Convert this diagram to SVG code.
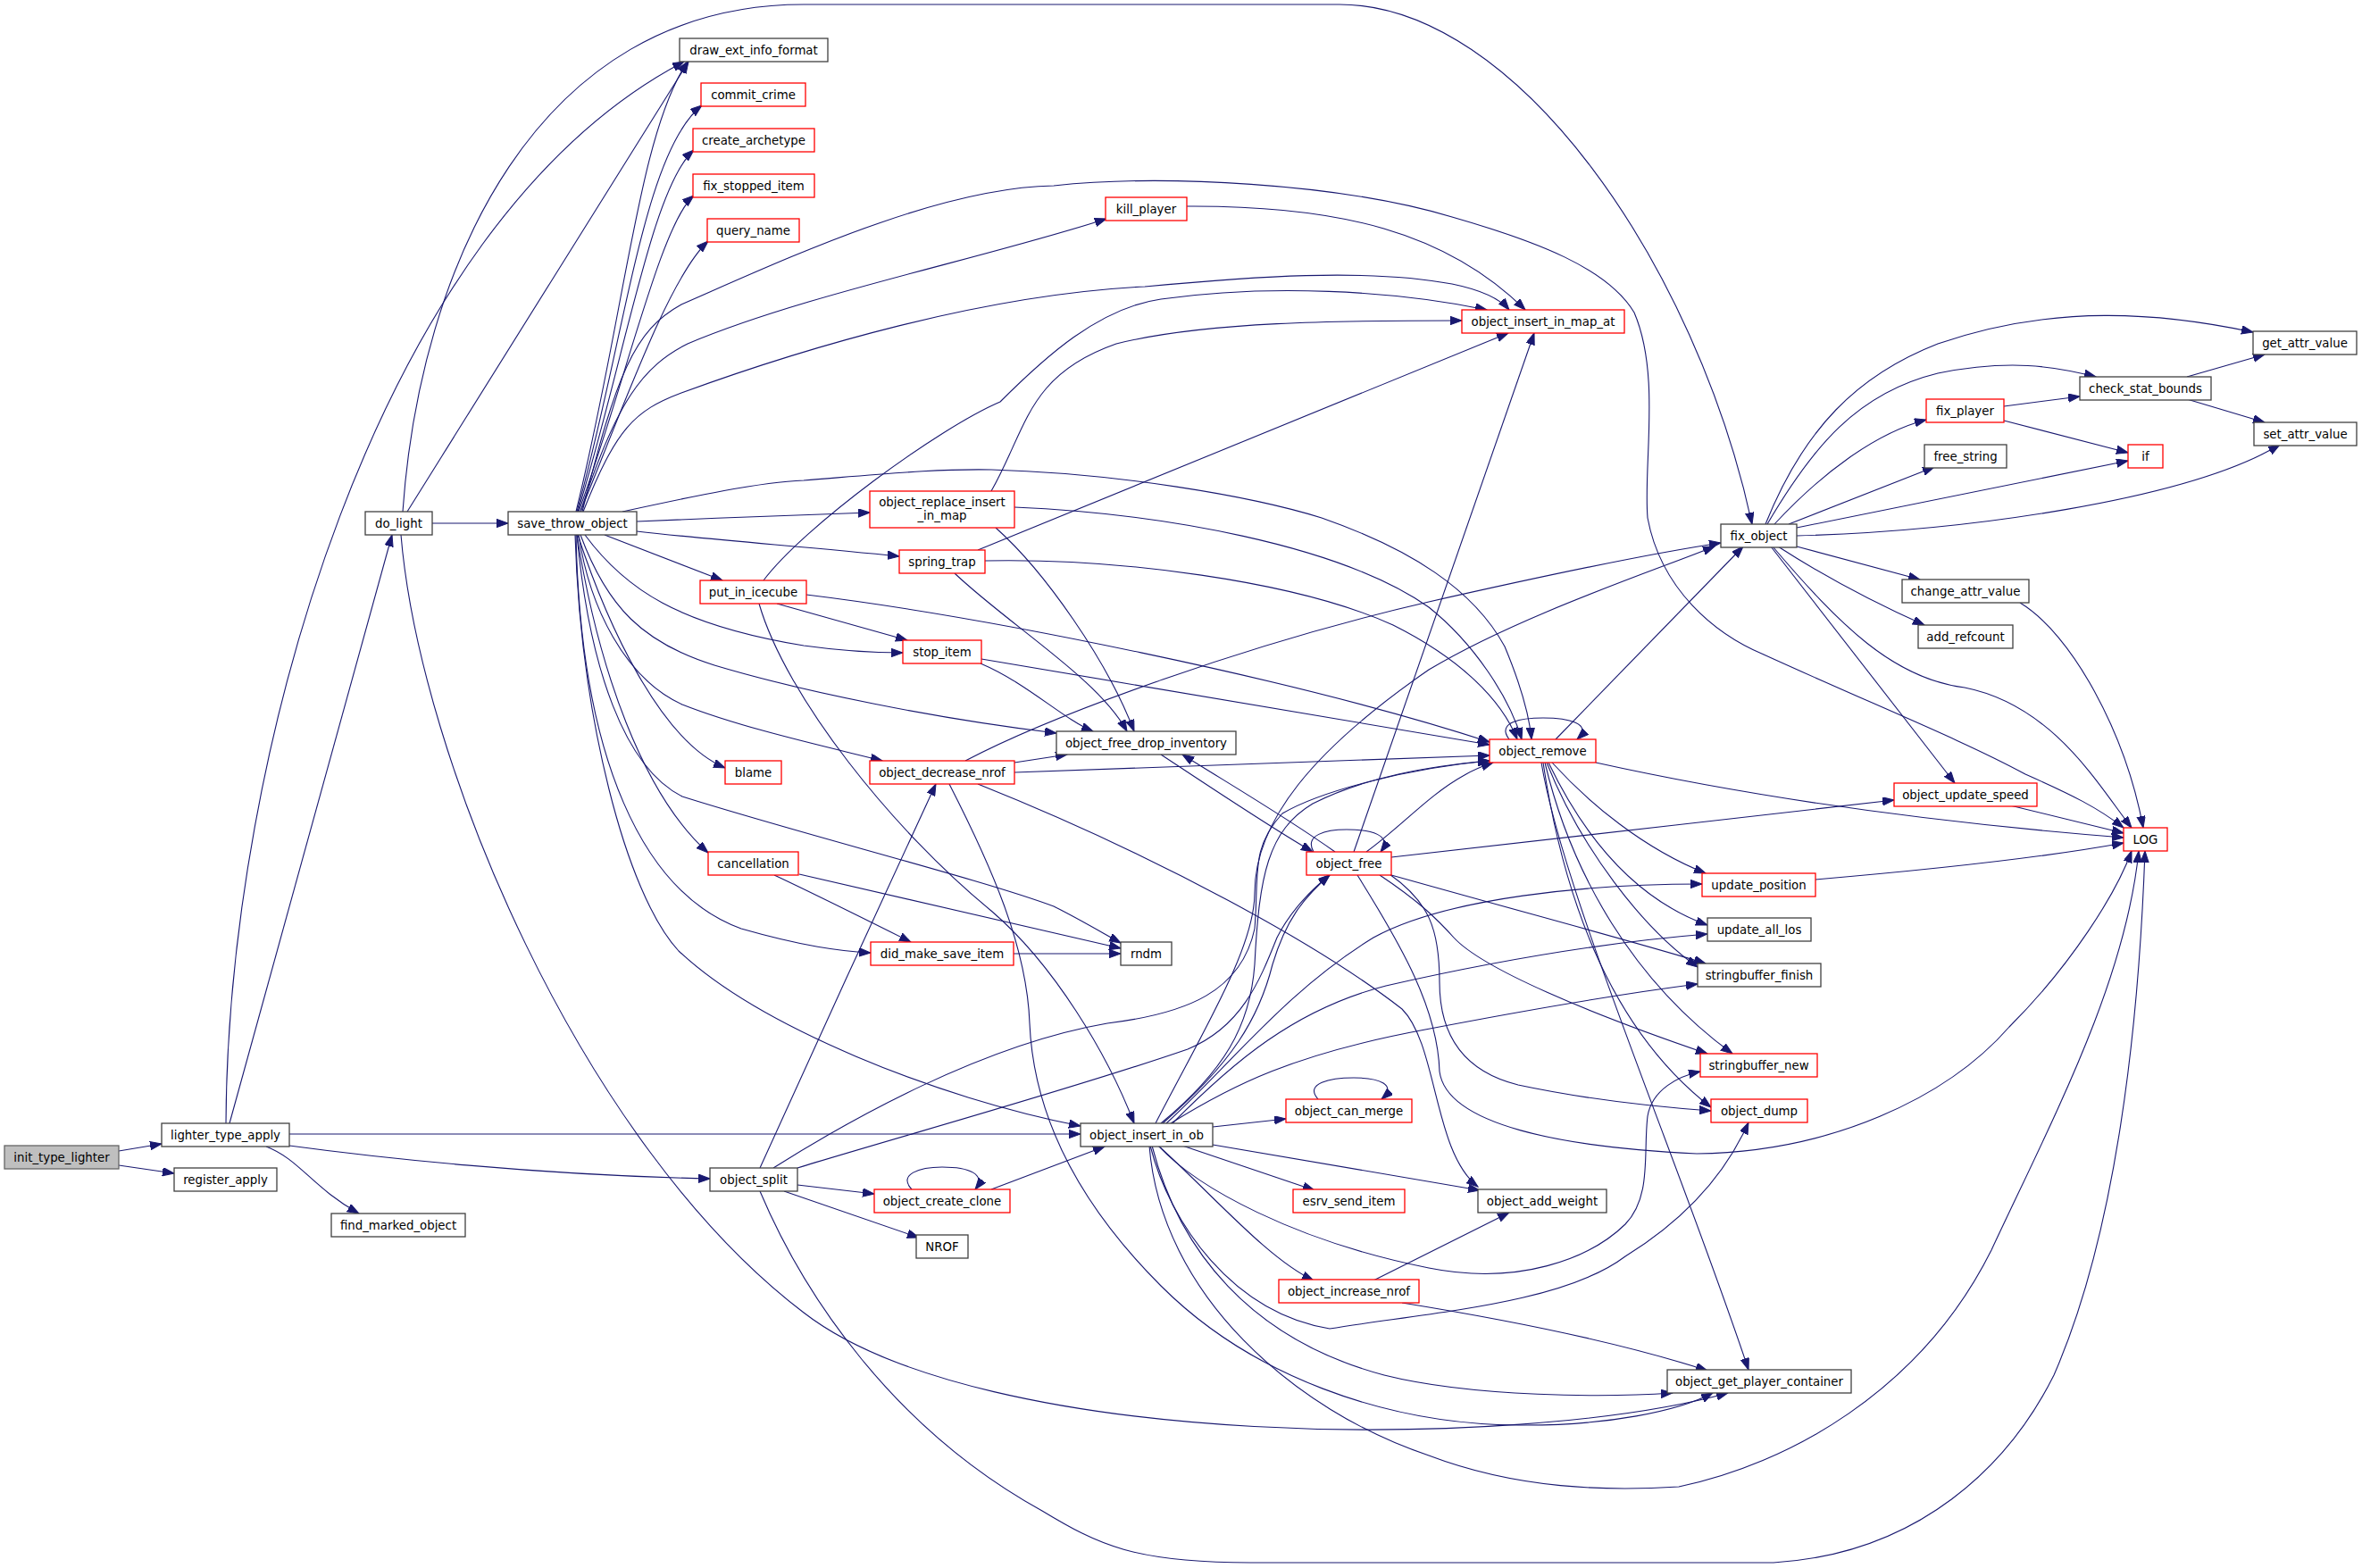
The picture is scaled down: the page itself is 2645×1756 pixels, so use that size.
<svg xmlns="http://www.w3.org/2000/svg" width="2645" height="1756" viewBox="0 0 2645 1756">
<style>
.n rect{fill:#ffffff;stroke:#404040;stroke-width:1.3}
.r rect{stroke:#ff0000}
.root rect{fill:#bfbfbf;stroke:#666666}
text{font-family:"DejaVu Sans","Liberation Sans",sans-serif;font-size:13.33px;text-anchor:middle;fill:#000000}
#edges path{fill:none;stroke:#191970;stroke-width:1.1;marker-end:url(#a)}
</style>
<defs>
<marker id="a" markerUnits="userSpaceOnUse" markerWidth="14" markerHeight="10" refX="13" refY="4.7" orient="auto">
<path d="M0,0 L13,4.7 L0,9.4 z" fill="#191970" stroke="#191970" stroke-width="1"/>
</marker>
</defs>
<rect width="2645" height="1756" fill="#ffffff"/>
<g id="edges">
<path d="M133,1289 L181,1281"/>
<path d="M133,1305 L195,1314"/>
<path d="M257,1258 L439,599"/>
<path d="M253,1258 C255,850 420,250 766,69"/>
<path d="M324,1270 L1210,1270"/>
<path d="M324,1283 C420,1296 600,1316 795,1320"/>
<path d="M298,1284 C335,1298 350,1330 402,1359"/>
<path d="M484,586 L569,586"/>
<path d="M456,573 L771,69"/>
<path d="M451,573 C470,300 600,5 900,5 L1500,5 C1700,5 1900,300 1962,587"/>
<path d="M449,599 C470,850 650,1280 900,1470 C1100,1625 1700,1625 1935,1560"/>
<path d="M645,573 C700,350 715,150 770,69"/>
<path d="M646,573 C700,380 720,170 786,118"/>
<path d="M647,573 C700,400 730,210 777,168"/>
<path d="M648,573 C700,430 740,250 777,219"/>
<path d="M650,573 C700,450 750,310 793,270"/>
<path d="M650,573 C690,450 720,410 770,385 C900,330 1100,290 1239,245"/>
<path d="M652,573 C690,420 710,370 763,341 C880,290 1050,210 1180,208 C1300,195 1500,205 1626,243 C1720,270 1800,300 1830,350 C1860,420 1840,520 1845,580 C1860,660 1920,710 1975,733 C2100,790 2200,830 2268,867 C2320,890 2350,905 2378,927"/>
<path d="M653,573 C690,480 710,460 763,440 C900,390 1100,330 1282,321 C1400,310 1530,300 1626,318 C1660,325 1680,335 1690,347"/>
<path d="M697,573 C780,555 850,540 900,538 C1000,530 1050,525 1110,526 C1250,530 1400,555 1480,580 C1580,615 1650,660 1685,724 C1700,760 1712,795 1715,828"/>
<path d="M713,584 C800,580 900,577 974,574"/>
<path d="M713,595 C800,605 900,612 1007,623"/>
<path d="M677,599 L809,650"/>
<path d="M655,599 C700,660 760,700 900,723 C950,730 980,731 1011,731"/>
<path d="M650,599 C680,680 720,720 800,745 C900,775 1050,805 1183,821"/>
<path d="M648,599 C660,680 700,760 764,789 C830,815 920,835 988,852"/>
<path d="M647,599 C680,700 740,830 812,860"/>
<path d="M646,599 C660,750 700,860 764,892 C900,935 1100,985 1180,1015 C1210,1030 1235,1045 1255,1056"/>
<path d="M646,599 C670,750 720,890 793,955"/>
<path d="M645,599 C650,850 720,1000 830,1040 C900,1060 940,1065 975,1067"/>
<path d="M644,599 C650,800 700,1000 760,1065 C850,1150 1050,1230 1210,1261"/>
<path d="M855,650 C900,590 1050,480 1120,450 C1170,400 1230,345 1300,335 C1420,318 1560,325 1665,347"/>
<path d="M870,676 L1016,717"/>
<path d="M903,666 C1100,690 1450,760 1668,831"/>
<path d="M850,676 C880,780 1000,930 1110,1020 C1180,1080 1240,1180 1270,1258"/>
<path d="M1095,616 L1689,373"/>
<path d="M1103,628 C1250,625 1450,650 1560,700 C1630,735 1680,780 1699,828"/>
<path d="M1069,642 C1130,700 1230,760 1262,819"/>
<path d="M1110,550 C1150,480 1150,420 1250,385 C1350,360 1500,359 1637,359"/>
<path d="M1136,568 C1300,575 1500,610 1600,680 C1650,720 1690,780 1704,828"/>
<path d="M1115,591 C1170,640 1240,740 1270,819"/>
<path d="M1099,738 L1668,834"/>
<path d="M1098,743 C1150,765 1190,805 1224,819"/>
<path d="M1081,852 C1180,800 1400,720 1600,674 C1750,640 1860,618 1927,608"/>
<path d="M1136,854 L1195,845"/>
<path d="M1136,865 L1668,846"/>
<path d="M1095,878 C1300,960 1480,1060 1570,1130 C1610,1170 1605,1290 1655,1329"/>
<path d="M1063,878 C1110,970 1150,1060 1153,1146 C1157,1240 1200,1340 1300,1440 C1400,1540 1550,1595 1700,1596 C1800,1597 1880,1580 1918,1560"/>
<path d="M851,1308 C900,1200 1000,980 1048,878"/>
<path d="M866,1308 C950,1255 1100,1170 1240,1146 C1330,1135 1390,1110 1405,1040 C1410,980 1400,950 1436,911 C1480,885 1580,860 1668,852"/>
<path d="M893,1327 L979,1337"/>
<path d="M878,1334 L1029,1386"/>
<path d="M851,1334 C900,1450 1000,1600 1167,1692 C1230,1730 1270,1750 1400,1750 L1986,1750 C2150,1740 2250,1640 2300,1540 C2370,1380 2395,1150 2402,953"/>
<path d="M893,1308 C1000,1275 1200,1220 1330,1175 C1390,1150 1410,1100 1430,1050 C1445,1020 1470,995 1489,980"/>
<path d="M1021,1332 C1005,1315 1030,1307 1055,1307 C1085,1307 1105,1315 1092,1332"/>
<path d="M1110,1332 L1237,1284"/>
<path d="M1358,1262 L1440,1253"/>
<path d="M1324,1283 L1472,1333"/>
<path d="M1358,1282 L1657,1333"/>
<path d="M1297,1283 C1360,1340 1420,1410 1471,1434"/>
<path d="M1476,1231 C1460,1213 1490,1207 1516,1207 C1545,1207 1565,1215 1547,1231"/>
<path d="M1297,1283 C1340,1330 1450,1390 1600,1420 C1700,1440 1780,1410 1820,1371 C1850,1340 1840,1290 1845,1250 C1850,1220 1880,1205 1904,1200"/>
<path d="M1288,1283 C1310,1370 1380,1470 1489,1488 C1600,1470 1750,1460 1820,1407 C1880,1370 1930,1320 1958,1257"/>
<path d="M1290,1283 C1320,1400 1400,1500 1550,1540 C1650,1565 1800,1565 1873,1560"/>
<path d="M1287,1283 C1300,1450 1450,1580 1600,1630 C1700,1668 1800,1670 1880,1665 C2000,1640 2150,1560 2230,1400 C2300,1250 2380,1100 2395,953"/>
<path d="M1294,1258 C1350,1150 1405,1060 1405,1000 C1405,920 1470,840 1600,750 C1700,690 1850,640 1920,612"/>
<path d="M1302,1258 C1380,1190 1410,1140 1425,1080 C1440,1030 1460,1005 1489,980"/>
<path d="M1306,1258 C1380,1190 1440,1110 1538,1050 C1620,1005 1780,990 1906,990"/>
<path d="M1313,1258 C1380,1190 1450,1130 1552,1104 C1680,1075 1800,1055 1912,1046"/>
<path d="M1311,1258 C1380,1215 1450,1180 1596,1153 C1700,1133 1800,1115 1901,1102"/>
<path d="M1300,1258 C1370,1200 1400,1150 1405,1080 C1410,980 1420,930 1470,900 C1530,870 1600,858 1668,852"/>
<path d="M1471,954 C1460,935 1485,929 1508,929 C1535,929 1560,935 1546,954"/>
<path d="M1495,954 C1440,915 1380,880 1324,845"/>
<path d="M1300,845 C1350,878 1420,925 1470,954"/>
<path d="M1530,954 C1570,925 1600,890 1640,868 C1650,862 1660,858 1672,854"/>
<path d="M1516,954 L1718,373"/>
<path d="M1558,960 C1700,945 1950,915 2121,896"/>
<path d="M1558,980 C1700,1020 1850,1060 1910,1079"/>
<path d="M1545,980 C1590,1010 1610,1030 1628,1050 C1660,1085 1780,1135 1912,1180"/>
<path d="M1556,979 C1600,1010 1612,1040 1612,1100 C1612,1160 1640,1200 1700,1215 C1780,1232 1860,1240 1916,1244"/>
<path d="M1520,980 C1570,1060 1610,1130 1612,1200 C1620,1260 1750,1285 1900,1292 C2050,1290 2180,1230 2250,1150 C2320,1080 2370,1000 2387,953"/>
<path d="M1690,828 C1675,808 1705,804 1728,804 C1755,804 1785,810 1766,828"/>
<path d="M1742,828 L1952,612"/>
<path d="M1787,854 C1950,890 2150,920 2378,938"/>
<path d="M1738,854 C1780,900 1840,950 1910,978"/>
<path d="M1734,854 C1780,950 1840,1010 1912,1036"/>
<path d="M1732,854 C1770,950 1840,1040 1901,1083"/>
<path d="M1730,854 C1760,980 1830,1100 1940,1180"/>
<path d="M1728,854 C1750,1000 1800,1150 1916,1240"/>
<path d="M1726,854 C1750,1000 1880,1300 1958,1534"/>
<path d="M1329,231 C1500,230 1620,260 1708,347"/>
<path d="M1977,587 C2020,480 2080,420 2170,385 C2300,340 2420,350 2523,372"/>
<path d="M1979,587 C2030,500 2080,440 2170,418 C2250,402 2300,410 2347,422"/>
<path d="M1987,587 C2040,530 2100,485 2157,470"/>
<path d="M2003,587 L2166,523"/>
<path d="M2012,591 L2383,516"/>
<path d="M2012,600 C2200,595 2450,560 2553,498"/>
<path d="M2012,612 L2150,649"/>
<path d="M1991,612 C2050,650 2110,680 2155,700"/>
<path d="M1983,612 L2189,877"/>
<path d="M1985,612 C2060,700 2120,760 2200,770 C2300,790 2350,880 2387,927"/>
<path d="M2244,455 L2329,444"/>
<path d="M2244,471 L2383,507"/>
<path d="M2449,422 L2536,397"/>
<path d="M2449,447 L2536,473"/>
<path d="M2262,675 C2320,710 2380,820 2400,927"/>
<path d="M2251,902 L2378,933"/>
<path d="M2033,985 C2150,975 2280,962 2378,944"/>
<path d="M1538,1434 L1690,1358"/>
<path d="M1570,1459 C1700,1480 1820,1505 1912,1535"/>
<path d="M895,979 L1255,1062"/>
<path d="M867,980 C910,1000 980,1035 1020,1055"/>
<path d="M1135,1068 L1255,1068"/>
</g>
<g id="nodes">
<g id="init_type_lighter" class="n root"><rect x="5" y="1283" width="128" height="26"/><text x="69" y="1300.5">init_type_lighter</text></g>
<g id="lighter_type_apply" class="n"><rect x="181" y="1258" width="143" height="26"/><text x="252.5" y="1275.5">lighter_type_apply</text></g>
<g id="register_apply" class="n"><rect x="195" y="1308" width="115" height="26"/><text x="252.5" y="1325.5">register_apply</text></g>
<g id="do_light" class="n"><rect x="409" y="573" width="75" height="26"/><text x="446.5" y="590.5">do_light</text></g>
<g id="find_marked_object" class="n"><rect x="371" y="1359" width="150" height="26"/><text x="446" y="1376.5">find_marked_object</text></g>
<g id="save_throw_object" class="n"><rect x="569" y="573" width="144" height="26"/><text x="641" y="590.5">save_throw_object</text></g>
<g id="draw_ext_info_format" class="n"><rect x="761" y="43" width="166" height="26"/><text x="844" y="60.5">draw_ext_info_format</text></g>
<g id="commit_crime" class="n r"><rect x="785" y="93" width="117" height="26"/><text x="843.5" y="110.5">commit_crime</text></g>
<g id="create_archetype" class="n r"><rect x="776" y="144" width="136" height="26"/><text x="844" y="161.5">create_archetype</text></g>
<g id="fix_stopped_item" class="n r"><rect x="776" y="195" width="136" height="26"/><text x="844" y="212.5">fix_stopped_item</text></g>
<g id="query_name" class="n r"><rect x="792" y="245" width="103" height="26"/><text x="843.5" y="262.5">query_name</text></g>
<g id="put_in_icecube" class="n r"><rect x="784" y="650" width="119" height="26"/><text x="843.5" y="667.5">put_in_icecube</text></g>
<g id="blame" class="n r"><rect x="812" y="852" width="63" height="26"/><text x="843.5" y="869.5">blame</text></g>
<g id="cancellation" class="n r"><rect x="793" y="954" width="101" height="26"/><text x="843.5" y="971.5">cancellation</text></g>
<g id="object_split" class="n"><rect x="795" y="1308" width="98" height="26"/><text x="844" y="1325.5">object_split</text></g>
<g id="object_replace_insert_in_map" class="n r"><rect x="974" y="550" width="162" height="41"/><text x="1055" y="567">object_replace_insert</text><text x="1055" y="582">_in_map</text></g>
<g id="spring_trap" class="n r"><rect x="1007" y="616" width="96" height="26"/><text x="1055" y="633.5">spring_trap</text></g>
<g id="stop_item" class="n r"><rect x="1011" y="717" width="88" height="26"/><text x="1055" y="734.5">stop_item</text></g>
<g id="object_decrease_nrof" class="n r"><rect x="974" y="852" width="162" height="26"/><text x="1055" y="869.5">object_decrease_nrof</text></g>
<g id="did_make_save_item" class="n r"><rect x="975" y="1055" width="160" height="26"/><text x="1055" y="1072.5">did_make_save_item</text></g>
<g id="object_create_clone" class="n r"><rect x="979" y="1332" width="152" height="26"/><text x="1055" y="1349.5">object_create_clone</text></g>
<g id="NROF" class="n"><rect x="1026" y="1383" width="58" height="26"/><text x="1055" y="1400.5">NROF</text></g>
<g id="kill_player" class="n r"><rect x="1238" y="221" width="91" height="26"/><text x="1283.5" y="238.5">kill_player</text></g>
<g id="object_free_drop_inventory" class="n"><rect x="1183" y="819" width="201" height="26"/><text x="1283.5" y="836.5">object_free_drop_inventory</text></g>
<g id="rndm" class="n"><rect x="1255" y="1055" width="57" height="26"/><text x="1283.5" y="1072.5">rndm</text></g>
<g id="object_insert_in_ob" class="n"><rect x="1210" y="1258" width="148" height="26"/><text x="1284" y="1275.5">object_insert_in_ob</text></g>
<g id="object_free" class="n r"><rect x="1463" y="954" width="95" height="26"/><text x="1510.5" y="971.5">object_free</text></g>
<g id="object_can_merge" class="n r"><rect x="1440" y="1231" width="141" height="26"/><text x="1510.5" y="1248.5">object_can_merge</text></g>
<g id="esrv_send_item" class="n r"><rect x="1448" y="1332" width="125" height="26"/><text x="1510.5" y="1349.5">esrv_send_item</text></g>
<g id="object_increase_nrof" class="n r"><rect x="1432" y="1433" width="157" height="26"/><text x="1510.5" y="1450.5">object_increase_nrof</text></g>
<g id="object_insert_in_map_at" class="n r"><rect x="1637" y="347" width="182" height="26"/><text x="1728" y="364.5">object_insert_in_map_at</text></g>
<g id="object_remove" class="n r"><rect x="1668" y="828" width="119" height="26"/><text x="1727.5" y="845.5">object_remove</text></g>
<g id="object_add_weight" class="n"><rect x="1655" y="1332" width="144" height="26"/><text x="1727" y="1349.5">object_add_weight</text></g>
<g id="fix_object" class="n"><rect x="1927" y="587" width="85" height="26"/><text x="1969.5" y="604.5">fix_object</text></g>
<g id="update_position" class="n r"><rect x="1906" y="978" width="127" height="26"/><text x="1969.5" y="995.5">update_position</text></g>
<g id="update_all_los" class="n"><rect x="1912" y="1028" width="116" height="26"/><text x="1970" y="1045.5">update_all_los</text></g>
<g id="stringbuffer_finish" class="n"><rect x="1901" y="1079" width="138" height="26"/><text x="1970" y="1096.5">stringbuffer_finish</text></g>
<g id="stringbuffer_new" class="n r"><rect x="1904" y="1180" width="131" height="26"/><text x="1969.5" y="1197.5">stringbuffer_new</text></g>
<g id="object_dump" class="n r"><rect x="1916" y="1231" width="108" height="26"/><text x="1970" y="1248.5">object_dump</text></g>
<g id="object_get_player_container" class="n"><rect x="1867" y="1534" width="206" height="26"/><text x="1970" y="1551.5">object_get_player_container</text></g>
<g id="fix_player" class="n r"><rect x="2157" y="447" width="87" height="26"/><text x="2200.5" y="464.5">fix_player</text></g>
<g id="free_string" class="n"><rect x="2155" y="498" width="92" height="26"/><text x="2201" y="515.5">free_string</text></g>
<g id="change_attr_value" class="n"><rect x="2130" y="649" width="142" height="26"/><text x="2201" y="666.5">change_attr_value</text></g>
<g id="add_refcount" class="n"><rect x="2148" y="700" width="106" height="26"/><text x="2201" y="717.5">add_refcount</text></g>
<g id="object_update_speed" class="n r"><rect x="2121" y="877" width="160" height="26"/><text x="2201" y="894.5">object_update_speed</text></g>
<g id="check_stat_bounds" class="n"><rect x="2329" y="422" width="147" height="26"/><text x="2402.5" y="439.5">check_stat_bounds</text></g>
<g id="if" class="n r"><rect x="2383" y="498" width="39" height="26"/><text x="2402.5" y="515.5">if</text></g>
<g id="LOG" class="n r"><rect x="2378" y="927" width="49" height="26"/><text x="2402.5" y="944.5">LOG</text></g>
<g id="get_attr_value" class="n"><rect x="2523" y="371" width="116" height="26"/><text x="2581" y="388.5">get_attr_value</text></g>
<g id="set_attr_value" class="n"><rect x="2524" y="473" width="115" height="26"/><text x="2581.5" y="490.5">set_attr_value</text></g>
</g>
</svg>
